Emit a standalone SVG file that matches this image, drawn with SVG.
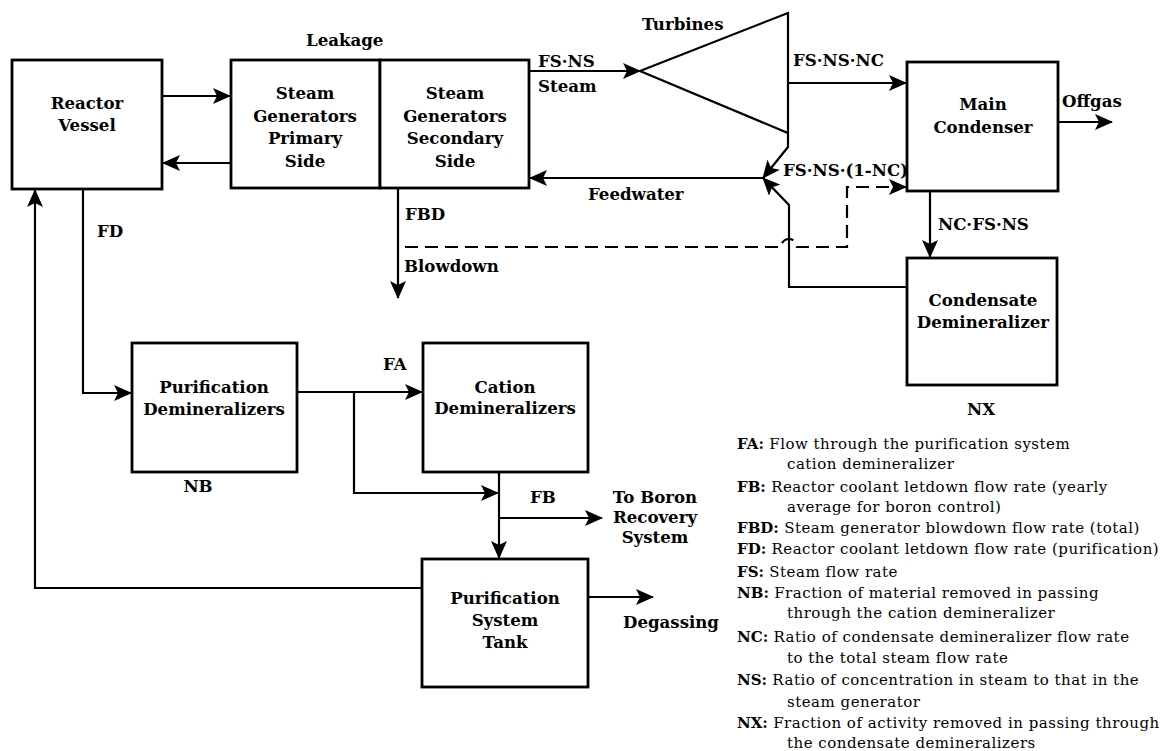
<svg xmlns="http://www.w3.org/2000/svg" width="1167" height="751" viewBox="0 0 1167 751">
<style>
.box{fill:#fff;stroke:#000;stroke-width:2.8}
.ln{fill:none;stroke:#000;stroke-width:2.2}
.dash{fill:none;stroke:#000;stroke-width:2.2;stroke-dasharray:13 7}
.t{font-family:"DejaVu Serif","Liberation Serif",serif;font-weight:bold;font-size:16.6px;fill:#000}
.c{text-anchor:middle}
.lg{font-family:"DejaVu Serif","Liberation Serif",serif;font-size:15px;letter-spacing:0.5px;fill:#000}
.lg tspan.b{font-weight:bold;letter-spacing:0}
</style>
<defs>
<marker id="ah" viewBox="0 0 18 16" markerWidth="18" markerHeight="16" refX="17" refY="8" orient="auto" markerUnits="userSpaceOnUse">
<path d="M0,0 L18,8 L0,16 L4,8 Z" fill="#000"/>
</marker>
</defs>
<rect width="1167" height="751" fill="#fff"/>

<g id="connectors">
<path class="ln" d="M162,96 H230" marker-end="url(#ah)"/>
<path class="ln" d="M231,163 H163" marker-end="url(#ah)"/>
<path class="ln" d="M358,76 H407" marker-end="url(#ah)"/>
<path class="ln" d="M529,71 H640" marker-end="url(#ah)"/>
<path class="ln" d="M788,133 V147 L763,178" marker-end="url(#ah)"/>
<path class="ln" d="M788,83 H906" marker-end="url(#ah)"/>
<path class="ln" d="M763,178 H530" marker-end="url(#ah)"/>
<path class="ln" d="M907,287 H789 V205 L763,178" marker-end="url(#ah)"/>
<path class="dash" d="M405,247 H781 A8,8 0 0 1 797,247 H847 V187 H906" marker-end="url(#ah)"/>
<path class="ln" d="M1058,122 H1112" marker-end="url(#ah)"/>
<path class="ln" d="M930,191 V257" marker-end="url(#ah)"/>
<path class="ln" d="M398,188 V298" marker-end="url(#ah)"/>
<path class="ln" d="M83,189 V393 H131" marker-end="url(#ah)"/>
<path class="ln" d="M297,392 H422" marker-end="url(#ah)"/>
<path class="ln" d="M354,392 V493 H498" marker-end="url(#ah)"/>
<path class="ln" d="M499,472 V558" marker-end="url(#ah)"/>
<path class="ln" d="M499,518 H602" marker-end="url(#ah)"/>
<path class="ln" d="M588,597 H653" marker-end="url(#ah)"/>
<path class="ln" d="M422,588 H35 V190" marker-end="url(#ah)"/>
</g>

<g id="reactor-vessel">
<rect class="box" x="12" y="60" width="150" height="129"/>
<text class="t c" x="87" y="109">Reactor</text>
<text class="t c" x="87" y="131">Vessel</text>
</g>

<g id="sg-primary">
<rect class="box" x="231" y="60" width="149" height="128"/>
<text class="t c" x="305" y="99">Steam</text>
<text class="t c" x="305" y="122">Generators</text>
<text class="t c" x="305" y="144">Primary</text>
<text class="t c" x="305" y="167">Side</text>
</g>

<g id="sg-secondary">
<rect class="box" x="380" y="60" width="149" height="128"/>
<text class="t c" x="455" y="99">Steam</text>
<text class="t c" x="455" y="122">Generators</text>
<text class="t c" x="455" y="144">Secondary</text>
<text class="t c" x="455" y="167">Side</text>
</g>

<g id="turbines">
<path class="ln" d="M788,13 L640,71 L788,133 Z" stroke-width="2.5"/>
<text class="t" x="642" y="30">Turbines</text>
</g>

<g id="main-condenser">
<rect class="box" x="907" y="62" width="151" height="129"/>
<text class="t c" x="983" y="110">Main</text>
<text class="t c" x="983" y="133">Condenser</text>
</g>

<g id="condensate-demineralizer">
<rect class="box" x="907" y="258" width="150" height="127"/>
<text class="t c" x="983" y="306">Condensate</text>
<text class="t c" x="983" y="328">Demineralizer</text>
<text class="t c" x="981" y="415">NX</text>
</g>

<g id="purification-demineralizers">
<rect class="box" x="132" y="343" width="165" height="129"/>
<text class="t c" x="214" y="393">Purification</text>
<text class="t c" x="214" y="415">Demineralizers</text>
<text class="t c" x="198" y="492">NB</text>
</g>

<g id="cation-demineralizers">
<rect class="box" x="423" y="343" width="165" height="129"/>
<text class="t c" x="505" y="393">Cation</text>
<text class="t c" x="505" y="414">Demineralizers</text>
</g>

<g id="purification-system-tank">
<rect class="box" x="422" y="559" width="166" height="128"/>
<text class="t c" x="505" y="604">Purification</text>
<text class="t c" x="505" y="626">System</text>
<text class="t c" x="505" y="648">Tank</text>
</g>

<g id="labels">
<text class="t" x="306" y="46">Leakage</text>
<text class="t" x="538" y="67">FS·NS</text>
<text class="t" x="538" y="92">Steam</text>
<text class="t" x="793" y="66">FS·NS·NC</text>
<text class="t" x="1062" y="107">Offgas</text>
<text class="t" x="783" y="176">FS·NS·(1-NC)</text>
<text class="t" x="938" y="230">NC·FS·NS</text>
<text class="t" x="588" y="200">Feedwater</text>
<text class="t" x="405" y="220">FBD</text>
<text class="t" x="404" y="272">Blowdown</text>
<text class="t" x="97" y="237">FD</text>
<text class="t" x="383" y="370">FA</text>
<text class="t" x="530" y="503">FB</text>
<text class="t c" x="655" y="503">To Boron</text>
<text class="t c" x="655" y="523">Recovery</text>
<text class="t c" x="655" y="543">System</text>
<text class="t" x="623" y="628">Degassing</text>
</g>

<g id="legend">
<text class="lg" x="737" y="449"><tspan class="b">FA:</tspan> Flow through the purification system</text>
<text class="lg" x="787" y="469">cation demineralizer</text>
<text class="lg" x="737" y="492"><tspan class="b">FB:</tspan> Reactor coolant letdown flow rate (yearly</text>
<text class="lg" x="787" y="512">average for boron control)</text>
<text class="lg" x="737" y="533"><tspan class="b">FBD:</tspan> Steam generator blowdown flow rate (total)</text>
<text class="lg" x="737" y="554"><tspan class="b">FD:</tspan> Reactor coolant letdown flow rate (purification)</text>
<text class="lg" x="737" y="577"><tspan class="b">FS:</tspan> Steam flow rate</text>
<text class="lg" x="737" y="598"><tspan class="b">NB:</tspan> Fraction of material removed in passing</text>
<text class="lg" x="787" y="618">through the cation demineralizer</text>
<text class="lg" x="737" y="642"><tspan class="b">NC:</tspan> Ratio of condensate demineralizer flow rate</text>
<text class="lg" x="787" y="663">to the total steam flow rate</text>
<text class="lg" x="737" y="685"><tspan class="b">NS:</tspan> Ratio of concentration in steam to that in the</text>
<text class="lg" x="787" y="707">steam generator</text>
<text class="lg" x="737" y="728"><tspan class="b">NX:</tspan> Fraction of activity removed in passing through</text>
<text class="lg" x="787" y="748">the condensate demineralizers</text>
</g>
</svg>
